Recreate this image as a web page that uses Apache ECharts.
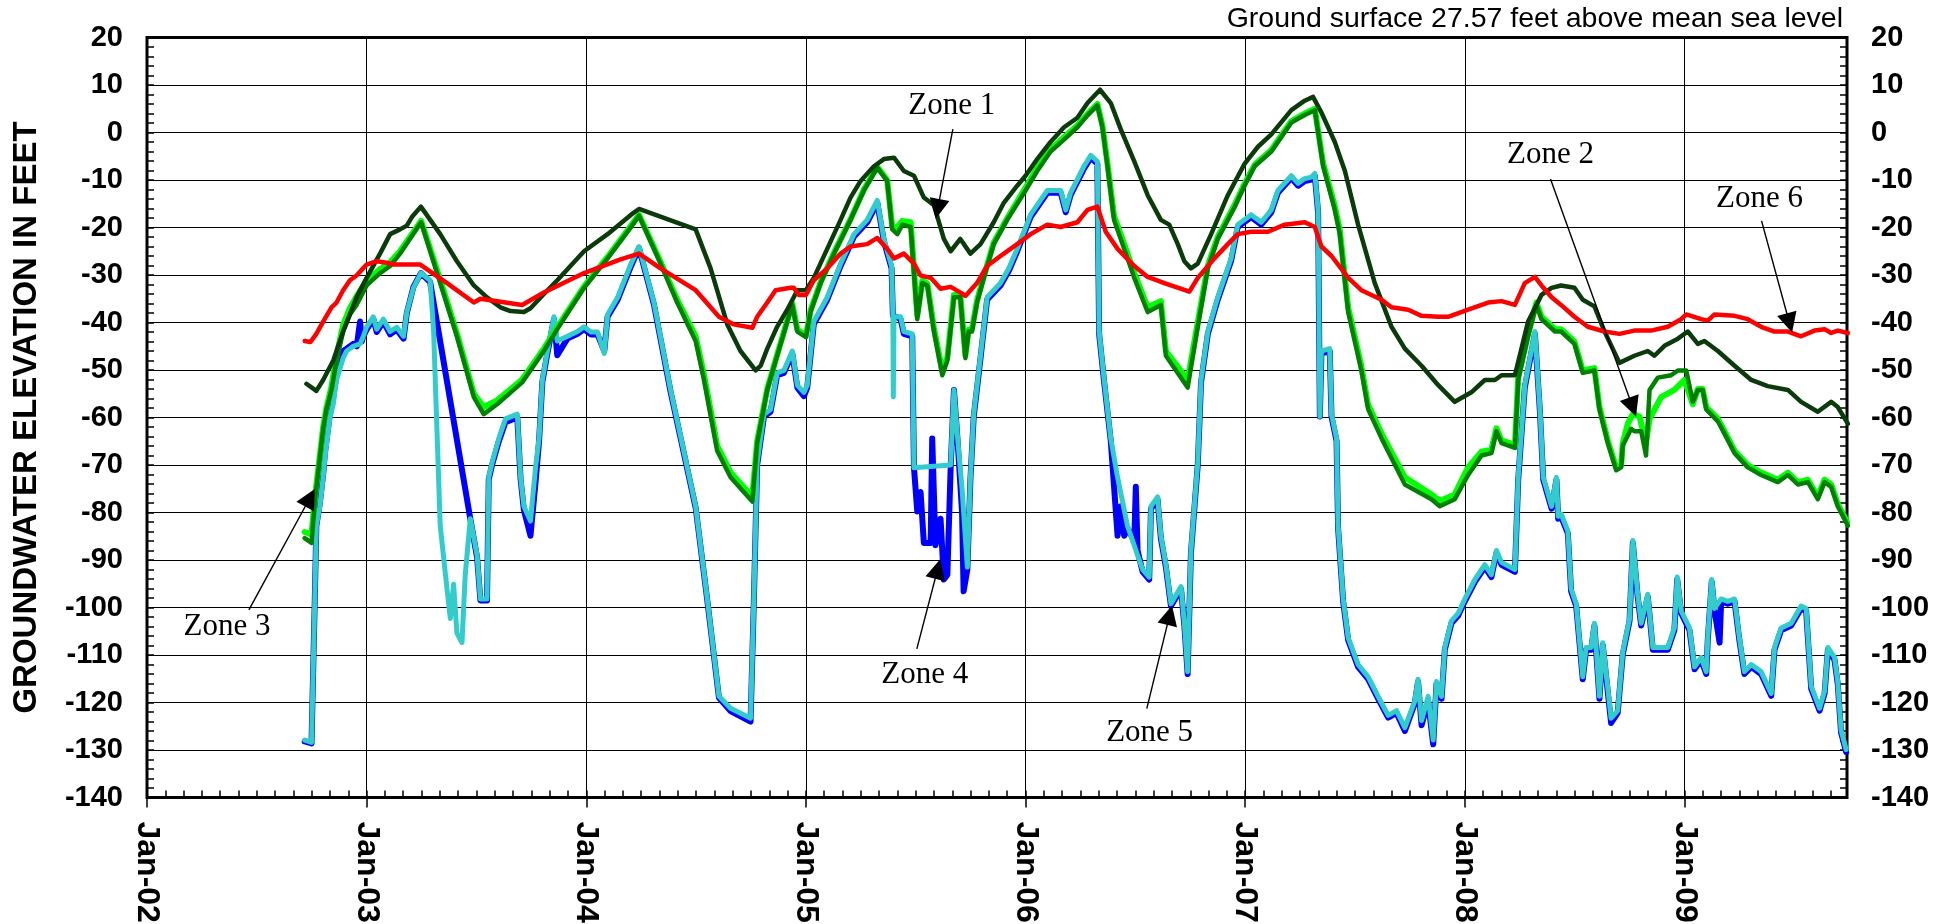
<!DOCTYPE html>
<html><head><meta charset="utf-8">
<script src="https://cdn.jsdelivr.net/npm/echarts@6/dist/echarts.min.js"></script>
<style>html,body{margin:0;padding:0;background:#fff}#chart{width:1954px;height:924px}</style>
</head><body><div id="chart"></div>
<script>
// ---- DATA: [decimal year, elevation ft] ----
const zone1 = [[2002.726,-52.9],[2002.771,-54.4],[2002.802,-52.1],[2002.848,-48.0],[2002.893,-41.9],[2002.954,-34.7],[2003.000,-30.6],[2003.061,-25.5],[2003.107,-21.4],[2003.152,-20.4],[2003.183,-19.6],[2003.206,-17.8],[2003.247,-15.6],[2003.335,-21.4],[2003.411,-27.1],[2003.488,-32.2],[2003.548,-34.7],[2003.609,-36.8],[2003.655,-37.6],[2003.716,-37.8],[2003.746,-37.0],[2003.807,-34.0],[2003.868,-31.1],[2003.990,-25.0],[2004.097,-21.4],[2004.204,-17.3],[2004.240,-16.1],[2004.498,-20.4],[2004.566,-28.6],[2004.642,-40.4],[2004.702,-46.0],[2004.771,-50.1],[2004.794,-49.1],[2004.824,-45.5],[2004.869,-40.9],[2004.915,-37.3],[2004.961,-33.2],[2005.000,-33.2],[2005.036,-30.6],[2005.097,-24.5],[2005.158,-18.4],[2005.203,-13.7],[2005.249,-10.2],[2005.310,-7.1],[2005.355,-5.6],[2005.401,-5.3],[2005.446,-8.1],[2005.492,-9.1],[2005.537,-13.7],[2005.583,-15.3],[2005.628,-22.4],[2005.659,-25.0],[2005.703,-22.4],[2005.749,-25.5],[2005.795,-23.5],[2005.855,-18.9],[2005.901,-14.8],[2005.962,-11.2],[2006.000,-9.1],[2006.053,-5.6],[2006.114,-2.0],[2006.175,1.1],[2006.236,3.1],[2006.282,6.2],[2006.339,9.0],[2006.388,6.2],[2006.434,0.6],[2006.495,-6.1],[2006.556,-13.2],[2006.616,-18.4],[2006.654,-19.4],[2006.693,-23.5],[2006.723,-27.1],[2006.753,-28.6],[2006.784,-27.6],[2006.845,-21.4],[2006.921,-13.2],[2006.997,-6.6],[2007.058,-3.0],[2007.119,-0.4],[2007.210,4.7],[2007.271,6.7],[2007.309,7.5],[2007.347,4.2],[2007.408,-2.0],[2007.454,-8.1],[2007.514,-19.4],[2007.590,-31.7],[2007.666,-40.9],[2007.727,-45.5],[2007.803,-49.1],[2007.879,-53.2],[2007.954,-56.7],[2008.030,-54.7],[2008.091,-52.1],[2008.137,-52.1],[2008.167,-51.1],[2008.228,-51.1],[2008.288,-39.8],[2008.349,-34.2],[2008.395,-32.7],[2008.438,-32.2],[2008.499,-32.7],[2008.537,-35.2],[2008.590,-36.6],[2008.636,-41.9],[2008.704,-48.5],[2008.772,-47.0],[2008.833,-46.0],[2008.863,-47.0],[2008.909,-44.9],[2008.970,-43.4],[2009.015,-41.9],[2009.061,-44.5],[2009.091,-43.9],[2009.152,-46.0],[2009.228,-49.1],[2009.304,-52.1],[2009.379,-53.4],[2009.471,-54.2],[2009.531,-56.7],[2009.607,-58.8],[2009.668,-56.7],[2009.698,-57.8],[2009.744,-61.3]];

const zone2 = [[2002.718,-84.1],[2002.749,-84.6],[2002.764,-77.0],[2002.787,-68.0],[2002.802,-62.0],[2002.817,-58.0],[2002.840,-53.5],[2002.863,-47.0],[2002.893,-40.5],[2002.924,-37.0],[2002.954,-34.5],[2003.000,-31.2],[2003.061,-28.8],[2003.107,-27.3],[2003.152,-25.0],[2003.248,-18.6],[2003.335,-31.0],[2003.411,-42.3],[2003.488,-55.0],[2003.533,-57.8],[2003.594,-56.4],[2003.708,-52.0],[2003.807,-45.5],[2003.868,-41.0],[2003.990,-32.4],[2004.097,-26.2],[2004.204,-19.6],[2004.240,-17.3],[2004.338,-27.2],[2004.414,-35.2],[2004.498,-42.9],[2004.536,-51.0],[2004.596,-65.9],[2004.657,-71.6],[2004.756,-76.7],[2004.778,-65.0],[2004.824,-54.0],[2004.869,-46.8],[2004.915,-39.6],[2004.938,-36.0],[2004.961,-41.5],[2005.000,-42.8],[2005.021,-37.5],[2005.067,-31.5],[2005.128,-25.3],[2005.203,-18.3],[2005.264,-12.0],[2005.325,-7.2],[2005.370,-10.0],[2005.393,-19.8],[2005.416,-19.9],[2005.439,-18.6],[2005.477,-18.9],[2005.507,-38.5],[2005.530,-31.2],[2005.553,-31.8],[2005.583,-41.2],[2005.621,-50.2],[2005.644,-47.4],[2005.674,-34.2],[2005.703,-34.2],[2005.726,-46.9],[2005.741,-41.5],[2005.756,-41.4],[2005.779,-35.4],[2005.810,-30.3],[2005.855,-23.2],[2005.916,-18.1],[2006.000,-11.6],[2006.053,-7.5],[2006.114,-3.5],[2006.175,-1.0],[2006.236,1.5],[2006.282,3.9],[2006.327,6.0],[2006.350,1.5],[2006.373,-6.5],[2006.403,-17.6],[2006.449,-23.5],[2006.495,-29.6],[2006.556,-36.8],[2006.616,-35.5],[2006.639,-46.0],[2006.738,-52.1],[2006.784,-40.0],[2006.830,-28.0],[2006.875,-22.0],[2006.951,-15.3],[2006.997,-10.8],[2007.043,-6.8],[2007.119,-3.7],[2007.210,2.4],[2007.271,4.0],[2007.317,5.0],[2007.355,-6.5],[2007.408,-15.5],[2007.431,-20.6],[2007.469,-36.9],[2007.529,-49.2],[2007.560,-57.4],[2007.621,-63.4],[2007.727,-72.6],[2007.848,-76.2],[2007.886,-77.6],[2007.954,-76.2],[2008.015,-70.5],[2008.076,-67.2],[2008.121,-66.8],[2008.144,-62.3],[2008.167,-64.8],[2008.228,-65.8],[2008.243,-51.5],[2008.288,-42.4],[2008.326,-35.8],[2008.349,-38.8],[2008.410,-41.4],[2008.438,-41.4],[2008.499,-44.0],[2008.537,-50.1],[2008.590,-49.6],[2008.613,-57.8],[2008.651,-64.9],[2008.689,-70.5],[2008.712,-70.0],[2008.719,-65.4],[2008.742,-61.3],[2008.765,-59.3],[2008.795,-59.8],[2008.825,-65.4],[2008.841,-60.3],[2008.894,-55.7],[2008.954,-54.2],[2009.000,-52.1],[2009.008,-52.0],[2009.038,-57.2],[2009.061,-54.0],[2009.083,-54.0],[2009.099,-57.8],[2009.152,-60.3],[2009.182,-62.9],[2009.228,-67.0],[2009.288,-70.0],[2009.349,-71.6],[2009.425,-73.1],[2009.471,-71.6],[2009.516,-73.6],[2009.562,-73.1],[2009.607,-76.7],[2009.638,-73.1],[2009.668,-74.1],[2009.698,-78.2],[2009.744,-82.3]];

const zone3 = [[2002.718,-85.4],[2002.749,-86.4],[2002.764,-77.7],[2002.787,-68.5],[2002.802,-62.4],[2002.817,-58.3],[2002.840,-54.2],[2002.863,-48.0],[2002.893,-41.9],[2002.924,-38.3],[2002.954,-36.3],[2003.000,-32.2],[2003.061,-29.6],[2003.107,-28.1],[2003.152,-25.5],[2003.248,-18.9],[2003.335,-31.7],[2003.411,-42.9],[2003.488,-55.7],[2003.533,-59.3],[2003.594,-57.2],[2003.708,-52.6],[2003.807,-46.0],[2003.868,-41.4],[2003.990,-32.7],[2004.097,-26.5],[2004.204,-19.9],[2004.240,-17.5],[2004.338,-27.6],[2004.414,-35.8],[2004.498,-43.9],[2004.536,-52.1],[2004.596,-67.0],[2004.657,-72.6],[2004.756,-77.7],[2004.778,-65.4],[2004.824,-54.2],[2004.869,-47.0],[2004.915,-39.8],[2004.938,-36.3],[2004.961,-41.9],[2005.000,-43.1],[2005.021,-37.8],[2005.067,-31.7],[2005.128,-25.5],[2005.203,-18.4],[2005.264,-12.2],[2005.325,-7.4],[2005.370,-10.2],[2005.393,-20.4],[2005.416,-21.4],[2005.439,-19.4],[2005.477,-19.9],[2005.507,-39.3],[2005.530,-31.7],[2005.553,-32.2],[2005.583,-41.9],[2005.621,-51.1],[2005.644,-48.0],[2005.674,-34.7],[2005.703,-34.7],[2005.726,-47.5],[2005.741,-41.9],[2005.756,-41.9],[2005.779,-35.8],[2005.810,-30.6],[2005.855,-23.5],[2005.916,-18.4],[2006.000,-12.2],[2006.053,-8.1],[2006.114,-4.0],[2006.175,-1.5],[2006.236,1.1],[2006.282,3.6],[2006.327,5.7],[2006.350,1.1],[2006.373,-7.1],[2006.403,-18.4],[2006.449,-24.5],[2006.495,-30.6],[2006.556,-37.8],[2006.616,-36.3],[2006.639,-47.0],[2006.738,-53.7],[2006.784,-40.9],[2006.830,-28.6],[2006.875,-22.4],[2006.951,-15.8],[2006.997,-11.2],[2007.043,-7.1],[2007.119,-4.0],[2007.210,2.1],[2007.271,3.7],[2007.317,4.7],[2007.355,-7.1],[2007.408,-16.3],[2007.431,-21.4],[2007.469,-37.8],[2007.529,-50.1],[2007.560,-58.3],[2007.621,-64.4],[2007.727,-74.1],[2007.848,-77.2],[2007.886,-78.7],[2007.954,-77.2],[2008.015,-72.1],[2008.076,-68.0],[2008.121,-67.5],[2008.144,-62.9],[2008.167,-65.4],[2008.228,-66.4],[2008.243,-52.1],[2008.288,-42.9],[2008.326,-36.3],[2008.349,-39.3],[2008.410,-41.9],[2008.438,-41.9],[2008.499,-44.5],[2008.537,-50.6],[2008.590,-50.1],[2008.613,-58.3],[2008.651,-65.4],[2008.689,-71.1],[2008.712,-70.5],[2008.719,-65.9],[2008.757,-62.4],[2008.772,-62.9],[2008.803,-62.9],[2008.825,-68.0],[2008.841,-54.2],[2008.879,-51.6],[2008.939,-51.1],[2008.970,-50.1],[2009.008,-50.1],[2009.038,-56.7],[2009.061,-54.2],[2009.083,-54.2],[2009.099,-58.3],[2009.152,-60.8],[2009.182,-63.4],[2009.228,-67.5],[2009.288,-70.5],[2009.349,-72.1],[2009.425,-73.6],[2009.471,-72.1],[2009.516,-74.1],[2009.562,-73.6],[2009.607,-77.2],[2009.638,-73.6],[2009.668,-74.6],[2009.698,-78.7],[2009.744,-82.8]];

const zone4 = [[2002.718,-128.2],[2002.749,-128.6],[2002.764,-98.2],[2002.771,-82.8],[2002.787,-78.0],[2002.802,-72.0],[2002.810,-67.5],[2002.832,-59.5],[2002.848,-55.5],[2002.863,-51.0],[2002.893,-46.0],[2002.909,-45.5],[2002.939,-44.5],[2002.955,-45.0],[2002.970,-39.8],[2002.978,-44.0],[2002.985,-42.9],[2003.000,-41.5],[2003.030,-39.2],[2003.046,-42.0],[2003.076,-39.8],[2003.107,-42.5],[2003.137,-41.5],[2003.168,-43.4],[2003.183,-38.0],[2003.213,-32.5],[2003.247,-29.6],[2003.289,-31.5],[2003.472,-81.3],[2003.503,-89.5],[2003.518,-98.5],[2003.548,-98.5],[2003.556,-73.0],[2003.571,-70.0],[2003.602,-65.0],[2003.632,-61.0],[2003.686,-60.0],[2003.701,-73.0],[2003.716,-79.5],[2003.746,-84.9],[2003.769,-73.6],[2003.785,-65.0],[2003.800,-52.5],[2003.823,-46.5],[2003.853,-39.3],[2003.868,-46.9],[2003.914,-43.4],[2003.960,-42.4],[2003.990,-41.4],[2004.021,-42.5],[2004.051,-42.5],[2004.082,-46.0],[2004.097,-38.8],[2004.143,-35.2],[2004.204,-28.1],[2004.240,-24.3],[2004.308,-36.2],[2004.384,-54.6],[2004.498,-79.0],[2004.551,-98.5],[2004.604,-119.0],[2004.657,-121.8],[2004.748,-124.0],[2004.763,-98.5],[2004.778,-70.0],[2004.809,-59.8],[2004.839,-58.8],[2004.869,-51.1],[2004.900,-50.6],[2004.938,-46.5],[2004.961,-53.7],[2004.991,-55.5],[2005.006,-53.7],[2005.036,-40.3],[2005.097,-35.2],[2005.158,-28.1],[2005.219,-21.9],[2005.279,-18.9],[2005.325,-14.8],[2005.355,-22.9],[2005.390,-28.6],[2005.396,-38.5],[2005.431,-39.3],[2005.446,-42.4],[2005.484,-42.9],[2005.492,-70.6],[2005.507,-79.8],[2005.522,-75.7],[2005.537,-86.4],[2005.568,-86.4],[2005.575,-64.4],[2005.590,-86.9],[2005.613,-81.3],[2005.628,-94.1],[2005.644,-93.1],[2005.659,-70.6],[2005.674,-54.2],[2005.690,-64.5],[2005.711,-80.0],[2005.718,-96.6],[2005.735,-92.0],[2005.749,-73.0],[2005.764,-59.8],[2005.795,-47.5],[2005.825,-35.2],[2005.886,-32.2],[2005.924,-29.1],[2005.962,-25.0],[2006.023,-17.8],[2006.099,-12.7],[2006.160,-12.7],[2006.183,-16.8],[2006.205,-13.2],[2006.266,-7.6],[2006.297,-5.3],[2006.327,-6.6],[2006.335,-42.4],[2006.358,-52.6],[2006.388,-64.9],[2006.419,-84.9],[2006.434,-78.7],[2006.449,-84.9],[2006.464,-83.3],[2006.495,-86.0],[2006.502,-74.6],[2006.510,-88.0],[2006.533,-92.5],[2006.563,-94.1],[2006.571,-79.2],[2006.601,-77.2],[2006.616,-85.4],[2006.639,-91.5],[2006.662,-99.7],[2006.708,-96.1],[2006.723,-103.8],[2006.738,-114.0],[2006.753,-88.5],[2006.784,-70.0],[2006.799,-52.6],[2006.830,-42.4],[2006.875,-35.2],[2006.936,-27.0],[2006.966,-19.9],[2007.027,-17.8],[2007.073,-19.4],[2007.119,-16.8],[2007.149,-12.7],[2007.210,-9.6],[2007.241,-11.2],[2007.271,-10.2],[2007.302,-9.9],[2007.317,-9.1],[2007.332,-16.8],[2007.340,-59.8],[2007.347,-46.5],[2007.385,-46.0],[2007.393,-59.8],[2007.416,-64.9],[2007.423,-83.3],[2007.446,-98.7],[2007.469,-106.9],[2007.514,-112.5],[2007.560,-115.1],[2007.605,-119.2],[2007.651,-123.2],[2007.689,-122.2],[2007.727,-126.0],[2007.772,-120.2],[2007.787,-115.6],[2007.803,-124.8],[2007.833,-119.7],[2007.856,-128.8],[2007.871,-116.1],[2007.894,-119.2],[2007.909,-108.9],[2007.939,-103.3],[2007.970,-101.7],[2008.000,-98.7],[2008.046,-94.6],[2008.091,-91.5],[2008.121,-93.6],[2008.144,-88.5],[2008.167,-91.0],[2008.228,-92.5],[2008.243,-73.1],[2008.273,-53.7],[2008.319,-42.4],[2008.342,-58.8],[2008.357,-73.1],[2008.395,-79.2],[2008.417,-73.1],[2008.425,-81.3],[2008.438,-80.8],[2008.469,-84.4],[2008.484,-96.6],[2008.507,-99.7],[2008.537,-115.1],[2008.552,-108.9],[2008.575,-108.9],[2008.590,-103.8],[2008.613,-119.2],[2008.628,-107.9],[2008.666,-124.3],[2008.696,-122.2],[2008.719,-109.9],[2008.750,-102.8],[2008.765,-86.4],[2008.787,-97.7],[2008.803,-103.8],[2008.833,-97.7],[2008.856,-108.9],[2008.924,-108.9],[2008.954,-104.8],[2008.967,-94.1],[2008.985,-101.2],[2009.023,-104.8],[2009.046,-113.0],[2009.076,-111.0],[2009.099,-114.0],[2009.106,-106.9],[2009.124,-94.6],[2009.137,-100.7],[2009.160,-107.4],[2009.167,-98.7],[2009.197,-99.2],[2009.228,-98.7],[2009.250,-106.9],[2009.273,-114.0],[2009.304,-112.5],[2009.349,-114.0],[2009.395,-118.6],[2009.410,-108.9],[2009.440,-104.8],[2009.486,-103.8],[2009.531,-100.2],[2009.554,-100.7],[2009.577,-117.1],[2009.615,-121.7],[2009.638,-118.1],[2009.653,-108.9],[2009.683,-111.0],[2009.698,-116.1],[2009.713,-126.3],[2009.736,-130.4]];

const zone5 = [[2002.718,-127.9],[2002.749,-128.4],[2002.764,-98.2],[2002.771,-82.8],[2002.787,-78.7],[2002.802,-72.6],[2002.810,-68.5],[2002.832,-60.3],[2002.848,-57.2],[2002.863,-52.1],[2002.893,-47.5],[2002.909,-46.0],[2002.939,-45.0],[2002.970,-44.5],[2002.985,-42.9],[2003.000,-40.9],[2003.030,-38.8],[2003.046,-41.4],[2003.076,-39.3],[2003.107,-41.9],[2003.137,-41.0],[2003.168,-42.9],[2003.183,-37.8],[2003.213,-32.7],[2003.247,-29.6],[2003.289,-31.1],[2003.305,-41.9],[2003.320,-62.4],[2003.335,-82.8],[2003.366,-96.1],[2003.381,-102.3],[2003.396,-95.1],[2003.411,-105.4],[2003.434,-107.4],[2003.449,-93.1],[2003.472,-81.3],[2003.503,-89.0],[2003.518,-98.2],[2003.548,-98.2],[2003.556,-72.6],[2003.571,-69.5],[2003.602,-64.4],[2003.632,-60.3],[2003.686,-59.3],[2003.701,-72.6],[2003.716,-78.7],[2003.746,-81.8],[2003.769,-70.5],[2003.785,-64.4],[2003.800,-52.1],[2003.823,-46.0],[2003.853,-38.8],[2003.868,-43.9],[2003.914,-42.9],[2003.960,-41.9],[2003.990,-40.9],[2004.021,-42.0],[2004.051,-42.0],[2004.082,-46.5],[2004.097,-38.3],[2004.143,-34.7],[2004.204,-27.6],[2004.240,-24.0],[2004.308,-35.8],[2004.384,-54.2],[2004.498,-78.7],[2004.551,-98.2],[2004.604,-118.7],[2004.657,-121.2],[2004.748,-123.3],[2004.763,-98.2],[2004.778,-69.5],[2004.809,-59.3],[2004.839,-58.3],[2004.869,-50.6],[2004.900,-50.1],[2004.938,-46.0],[2004.961,-53.2],[2004.991,-54.7],[2005.006,-53.2],[2005.036,-39.8],[2005.097,-34.7],[2005.158,-27.6],[2005.219,-21.4],[2005.279,-18.4],[2005.325,-14.3],[2005.355,-22.4],[2005.390,-28.1],[2005.396,-38.0],[2005.398,-55.7],[2005.401,-38.8],[2005.431,-38.8],[2005.446,-41.9],[2005.484,-42.4],[2005.492,-70.6],[2005.659,-70.0],[2005.674,-54.2],[2005.690,-64.0],[2005.711,-75.0],[2005.735,-91.5],[2005.741,-91.5],[2005.749,-72.6],[2005.764,-59.3],[2005.795,-47.0],[2005.825,-34.7],[2005.886,-31.7],[2005.924,-28.6],[2005.962,-24.5],[2006.023,-17.3],[2006.099,-12.2],[2006.160,-12.2],[2006.183,-16.3],[2006.205,-12.7],[2006.266,-7.1],[2006.297,-4.8],[2006.327,-6.1],[2006.335,-41.9],[2006.358,-52.1],[2006.388,-64.4],[2006.419,-72.6],[2006.464,-82.8],[2006.510,-89.0],[2006.533,-92.0],[2006.563,-93.6],[2006.571,-78.7],[2006.601,-76.7],[2006.616,-84.9],[2006.639,-91.0],[2006.662,-99.2],[2006.708,-95.6],[2006.723,-103.3],[2006.738,-113.5],[2006.753,-88.0],[2006.784,-69.5],[2006.799,-52.1],[2006.830,-41.9],[2006.875,-34.7],[2006.936,-26.5],[2006.966,-19.4],[2007.027,-17.3],[2007.073,-18.9],[2007.119,-16.3],[2007.149,-12.2],[2007.210,-9.1],[2007.241,-10.7],[2007.271,-9.7],[2007.302,-9.4],[2007.317,-8.6],[2007.332,-16.3],[2007.340,-59.8],[2007.347,-46.0],[2007.385,-45.5],[2007.393,-59.3],[2007.416,-64.4],[2007.423,-82.8],[2007.446,-98.2],[2007.469,-106.4],[2007.514,-112.0],[2007.560,-114.6],[2007.605,-118.7],[2007.651,-122.7],[2007.689,-121.7],[2007.727,-125.3],[2007.772,-119.7],[2007.787,-115.1],[2007.803,-123.8],[2007.833,-118.7],[2007.856,-127.9],[2007.871,-115.6],[2007.894,-118.7],[2007.909,-108.4],[2007.939,-102.8],[2007.970,-101.2],[2008.000,-98.2],[2008.046,-94.1],[2008.091,-91.0],[2008.121,-93.1],[2008.144,-88.0],[2008.167,-90.5],[2008.228,-92.0],[2008.243,-72.6],[2008.273,-53.2],[2008.319,-41.9],[2008.342,-58.3],[2008.357,-72.6],[2008.395,-78.7],[2008.417,-72.6],[2008.425,-80.8],[2008.438,-80.3],[2008.469,-83.9],[2008.484,-96.1],[2008.507,-99.2],[2008.537,-114.6],[2008.552,-108.4],[2008.575,-108.4],[2008.590,-103.3],[2008.613,-118.7],[2008.628,-107.4],[2008.666,-123.3],[2008.696,-121.7],[2008.719,-109.4],[2008.750,-102.3],[2008.765,-85.9],[2008.787,-97.2],[2008.803,-103.3],[2008.833,-97.2],[2008.856,-108.4],[2008.924,-108.4],[2008.954,-104.3],[2008.967,-93.6],[2008.985,-100.7],[2009.023,-104.3],[2009.046,-112.5],[2009.076,-110.5],[2009.099,-113.5],[2009.106,-106.4],[2009.124,-94.1],[2009.137,-100.2],[2009.167,-98.2],[2009.197,-98.7],[2009.228,-98.2],[2009.250,-106.4],[2009.273,-113.5],[2009.304,-112.0],[2009.349,-113.5],[2009.395,-118.1],[2009.410,-108.4],[2009.440,-104.3],[2009.486,-103.3],[2009.531,-99.7],[2009.554,-100.2],[2009.577,-116.6],[2009.615,-121.2],[2009.638,-117.6],[2009.653,-108.4],[2009.683,-110.5],[2009.698,-115.6],[2009.713,-125.8],[2009.736,-129.9]];

const zone6 = [[2002.718,-43.9],[2002.744,-44.1],[2002.771,-42.4],[2002.802,-39.8],[2002.840,-36.8],[2002.863,-35.8],[2002.893,-33.2],[2002.924,-31.1],[2002.954,-30.1],[2003.000,-27.8],[2003.046,-27.1],[2003.091,-27.4],[2003.122,-27.8],[2003.244,-27.8],[2003.366,-31.7],[2003.488,-35.8],[2003.518,-35.0],[2003.564,-35.3],[2003.708,-36.3],[2003.807,-33.7],[2003.990,-29.6],[2004.156,-26.7],[2004.240,-25.5],[2004.338,-28.6],[2004.498,-33.2],[2004.604,-38.8],[2004.672,-40.4],[2004.756,-41.1],[2004.778,-38.8],[2004.824,-35.8],[2004.862,-33.2],[2004.930,-32.7],[2004.945,-32.7],[2004.968,-34.2],[2005.000,-34.2],[2005.036,-31.1],[2005.097,-28.6],[2005.158,-25.5],[2005.203,-24.0],[2005.279,-23.5],[2005.325,-22.2],[2005.370,-24.5],[2005.401,-26.5],[2005.446,-25.5],[2005.492,-27.6],[2005.522,-30.1],[2005.568,-30.6],[2005.613,-32.9],[2005.659,-32.5],[2005.704,-33.7],[2005.726,-34.4],[2005.779,-31.7],[2005.825,-28.1],[2005.886,-26.0],[2005.962,-23.5],[2006.023,-21.4],[2006.099,-19.4],[2006.160,-19.9],[2006.236,-18.9],[2006.282,-16.3],[2006.327,-15.6],[2006.365,-20.9],[2006.419,-24.5],[2006.495,-28.1],[2006.556,-30.4],[2006.632,-31.7],[2006.746,-33.5],[2006.784,-30.6],[2006.860,-26.5],[2006.921,-23.5],[2006.966,-21.4],[2007.027,-20.9],[2007.104,-20.9],[2007.180,-19.4],[2007.271,-18.9],[2007.317,-19.9],[2007.347,-24.0],[2007.393,-26.0],[2007.469,-30.6],[2007.529,-33.2],[2007.621,-35.2],[2007.666,-36.8],[2007.742,-37.3],[2007.803,-38.6],[2007.879,-38.8],[2007.924,-38.8],[2008.015,-37.3],[2008.106,-35.8],[2008.167,-35.5],[2008.228,-36.3],[2008.273,-31.7],[2008.319,-30.4],[2008.349,-32.2],[2008.395,-34.7],[2008.438,-36.3],[2008.499,-38.8],[2008.560,-40.9],[2008.636,-41.9],[2008.704,-42.4],[2008.772,-41.7],[2008.848,-41.7],[2008.924,-40.9],[2008.985,-39.3],[2009.008,-38.3],[2009.076,-39.3],[2009.106,-39.6],[2009.137,-38.3],[2009.228,-38.6],[2009.288,-39.3],[2009.349,-40.9],[2009.410,-41.9],[2009.471,-41.9],[2009.531,-42.9],[2009.592,-41.7],[2009.638,-41.4],[2009.668,-42.2],[2009.698,-41.7],[2009.744,-42.2]];

const yearTicks = [2002, 2003, 2004, 2005, 2006, 2007, 2008, 2009];
const zoneNames = ['Zone 1', 'Zone 2', 'Zone 3', 'Zone 4', 'Zone 5', 'Zone 6'];
// annotation label anchors and arrows [arrow start, arrow tip] in data coords
const labelPos = [[2005.664, 5.6], [2008.390, -4.7], [2002.364, -104.1], [2005.541, -114.2], [2006.565, -126.4], [2009.342, -14.0]];
const arrows = [
  [[2005.669, 0.7], [2005.600, -16.1]],
  [[2008.390, -9.8], [2008.764, -57.8]],
  [[2002.464, -100.5], [2002.742, -76.9]],
  [[2005.505, -108.7], [2005.600, -91.9]],
  [[2006.552, -121.3], [2006.656, -101.6]],
  [[2009.351, -18.6], [2009.478, -40.1]]
];
const titleText = 'Ground surface 27.57 feet above mean sea level';
const yName = 'GROUNDWATER ELEVATION IN FEET';

// ---- CHART ----
const X_MIN = 2002, X_MAX = 2009.74;
const monthTicks = [];
for (let k = 0; k <= 92; k++) monthTicks.push(X_MIN + k / 12);

const chart = echarts.init(document.getElementById('chart'), null, {renderer: 'canvas'});
const font = 'Liberation Sans, Arial, sans-serif';
function lineSeries(name, data, color, width) {
  return {
    name, type: 'line', data, xAxisIndex: 0, yAxisIndex: 0,
    showSymbol: false, symbol: 'none', silent: true, animation: false,
    lineStyle: {color, width, join: 'round', cap: 'round'}, itemStyle: {color}
  };
}
const series = [
  lineSeries('Zone 4', zone4, '#0000ff', 6),
  lineSeries('Zone 5', zone5, '#33cccc', 5),
  lineSeries('Zone 2', zone2, '#00ff00', 6),
  lineSeries('Zone 3', zone3, '#008000', 4.5),
  lineSeries('Zone 1', zone1, '#0b3b0b', 4.5),
  lineSeries('Zone 6', zone6, '#ff0000', 4.5)
];
series[5].markLine = {
  silent: true, animation: false,
  symbol: ['none', 'triangle'], symbolSize: 20,
  label: {show: false},
  itemStyle: {color: '#000'},
  lineStyle: {color: '#000', width: 1.4, type: 'solid', opacity: 1},
  emphasis: {disabled: true},
  data: arrows.map(a => [{coord: a[0]}, {coord: a[1]}])
};
series[5].markPoint = {
  silent: true, animation: false,
  symbol: 'circle', symbolSize: 1, itemStyle: {color: 'rgba(0,0,0,0)'},
  label: {show: true, position: 'inside', formatter: '{b}', color: '#000',
          fontFamily: 'Liberation Serif, Times New Roman, serif', fontSize: 31},
  data: zoneNames.map((n, i) => ({name: n, coord: labelPos[i]}))
};

const yCommon = {
  type: 'value', min: -140, max: 20, interval: 10,
  axisLine: {show: false},
  axisTick: {show: true, inside: true, length: 7, lineStyle: {color: '#000', width: 1.5}},
  minorTick: {show: true, splitNumber: 5, length: 7, lineStyle: {color: '#000', width: 1.5}},
  axisLabel: {show: true, color: '#000', fontFamily: font, fontWeight: 'bold', fontSize: 29, margin: 24,
              showMinLabel: true, showMaxLabel: true},
};

chart.setOption({
  animation: false,
  backgroundColor: '#fff',
  title: {
    text: titleText, right: 106, top: 0,
    textStyle: {fontFamily: font, fontSize: 28.5, fontWeight: 'normal', color: '#000'}
  },
  grid: {
    left: 147, right: 107, top: 37.5, bottom: 126.5,
    containLabel: false, outerBoundsMode: 'none',
    show: true, borderColor: '#000', borderWidth: 3, backgroundColor: 'transparent'
  },
  xAxis: [
    {
      type: 'value', min: X_MIN, max: X_MAX, interval: 1, position: 'bottom',
      axisLine: {show: false, onZero: false},
      axisTick: {show: true, inside: false, length: 10, customValues: yearTicks, lineStyle: {color: '#000', width: 1.5}},
      axisLabel: {
        show: true, rotate: -90, margin: 24, customValues: yearTicks,
        color: '#000', fontFamily: font, fontWeight: 'bold', fontSize: 32,
        formatter: v => 'Jan-' + String(Math.round(v) % 100).padStart(2, '0')
      },
      splitLine: {show: true, lineStyle: {color: '#000', width: 1}}
    },
    {
      type: 'value', min: X_MIN, max: X_MAX, position: 'bottom',
      axisLine: {show: false, onZero: false},
      axisTick: {show: true, inside: true, length: 7, customValues: monthTicks, lineStyle: {color: '#000', width: 1.5}},
      axisLabel: {show: false},
      splitLine: {show: false}
    }
  ],
  yAxis: [
    Object.assign({}, yCommon, {
      position: 'left',
      name: yName, nameLocation: 'middle', nameGap: 104,
      nameTextStyle: {fontFamily: font, fontWeight: 'bold', fontSize: 33, color: '#000'},
      splitLine: {show: true, lineStyle: {color: '#000', width: 1}}
    }),
    Object.assign({}, yCommon, {
      position: 'right',
      splitLine: {show: false}
    })
  ],
  series
});
</script>
</body></html>
